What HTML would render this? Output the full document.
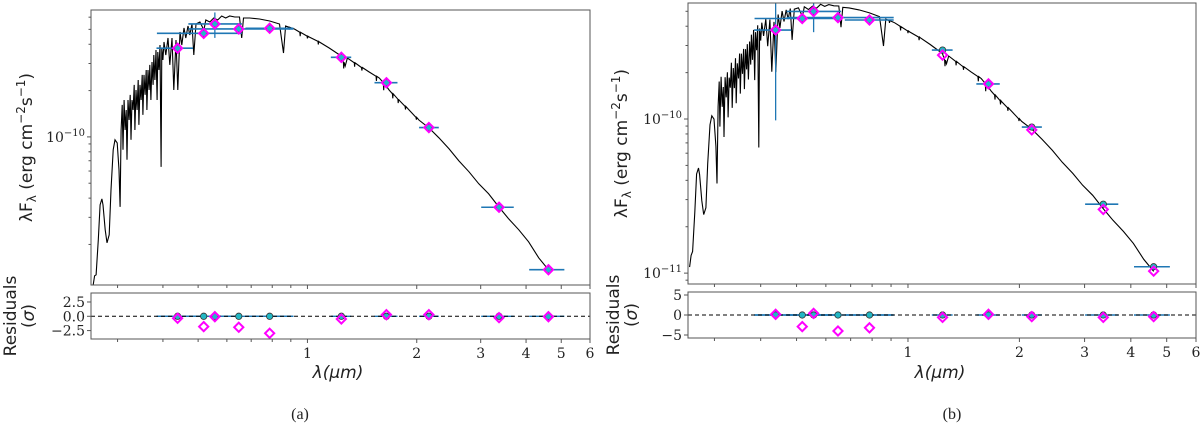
<!DOCTYPE html>
<html><head><meta charset="utf-8"><style>
html,body{margin:0;padding:0;background:#fff}
svg{display:block}
.tk{font-family:"DejaVu Serif","Liberation Serif",serif;font-size:14px;fill:#222}
.lab{font-family:"DejaVu Sans","Liberation Sans",sans-serif;font-size:17px;fill:#222}
.cap{font-family:"Liberation Serif",serif;font-size:16px;fill:#222}
</style></head><body>
<svg id="fig" width="1200" height="425" viewBox="0 0 1200 425" xmlns="http://www.w3.org/2000/svg"></svg>
<script>
// ---- shared photometric bands ----
const bandLam = [0.439,0.518,0.556,0.647,0.787,1.24,1.65,2.16,3.37,4.61];
const bandLo  = [0.384,0.385,0.47,0.47,0.675,1.16,1.53,2.03,3.01,4.08];
const bandHi  = [0.484,0.66,0.66,0.915,0.915,1.32,1.77,2.3,3.7,5.1];
// ---- panel a ----
const modelA = [3.77e-10,4.71e-10,5.42e-10,5.03e-10,5.08e-10,3.29e-10,2.25e-10,1.15e-10,3.49e-11,1.37e-11];
const obsA   = [3.77e-10,4.71e-10,5.42e-10,5.03e-10,5.08e-10,3.29e-10,2.25e-10,1.15e-10,3.49e-11,1.37e-11];
const errA   = [0,0,1.02e-10,0,0,0,0,0,0,0];
const residA = [-0.35,-1.8,-0.07,-1.92,-2.97,-0.47,0.28,0.28,-0.24,-0.07];
// ---- panel b ----
const modelB = [3.78e-10,4.49e-10,4.99e-10,4.55e-10,4.39e-10,2.60e-10,1.69e-10,8.51e-11,2.59e-11,1.03e-11];
const obsB   = [3.78e-10,4.49e-10,4.99e-10,4.55e-10,4.39e-10,2.80e-10,1.69e-10,8.87e-11,2.80e-11,1.10e-11];
const errB   = [2.8e-10,0,1.33e-10,0,0,0,0,0,0,0];
const residB = [0.17,-2.9,0.4,-4,-3.2,-0.6,0.17,-0.4,-0.6,-0.4];
// ---- model spectrum (log10 lambda [um], log10 flux rel. 1e-10) for panel a ----
const specLogLam = [-0.590,-0.586,-0.582,-0.576,-0.571,-0.566,-0.563,-0.557,-0.552,-0.546,-0.541,-0.535,-0.530,-0.524,-0.519,-0.516,-0.513,-0.510,-0.508,-0.505,-0.502,-0.499,-0.497,-0.494,-0.491,-0.488,-0.486,-0.483,-0.480,-0.477,-0.475,-0.472,-0.469,-0.466,-0.464,-0.461,-0.458,-0.455,-0.453,-0.450,-0.447,-0.444,-0.442,-0.439,-0.436,-0.434,-0.431,-0.428,-0.425,-0.423,-0.420,-0.417,-0.414,-0.412,-0.409,-0.406,-0.403,-0.401,-0.398,-0.395,-0.390,-0.384,-0.379,-0.373,-0.368,-0.362,-0.357,-0.351,-0.346,-0.340,-0.335,-0.329,-0.324,-0.318,-0.313,-0.307,-0.296,-0.285,-0.280,-0.269,-0.258,-0.247,-0.236,-0.225,-0.214,-0.200,-0.187,-0.181,-0.176,-0.159,-0.132,-0.104,-0.077,-0.066,-0.060,-0.036,-0.022,0.005,0.033,0.060,0.093,0.104,0.110,0.143,0.170,0.198,0.211,0.225,0.252,0.280,0.307,0.335,0.362,0.390,0.417,0.445,0.472,0.499,0.527,0.554,0.582,0.609,0.637,0.664];
const specLogFlux = [-0.961,-0.903,-0.896,-0.669,-0.442,-0.403,-0.442,-0.604,-0.688,-0.636,-0.344,-0.084,-0.019,-0.039,-0.214,-0.455,0.045,0.208,-0.084,0.240,0.045,0.175,-0.149,0.240,0.110,0.273,-0.019,0.240,0.175,0.338,0.045,0.305,0.175,0.370,0.078,0.338,0.240,0.403,0.143,0.403,0.273,0.435,0.175,0.435,0.305,0.468,0.240,0.487,0.338,0.532,0.370,0.565,0.240,0.552,0.435,0.597,-0.195,0.578,0.500,0.617,0.532,0.643,0.468,0.643,0.305,0.630,0.305,0.682,0.597,0.708,0.643,0.721,0.662,0.734,0.532,0.734,0.747,0.695,0.760,0.747,0.773,0.760,0.786,0.773,0.786,0.779,0.779,0.643,0.773,0.773,0.766,0.753,0.734,0.545,0.721,0.701,0.682,0.649,0.617,0.578,0.526,0.461,0.513,0.461,0.422,0.383,0.351,0.305,0.240,0.175,0.110,0.058,-0.006,-0.078,-0.156,-0.227,-0.305,-0.370,-0.455,-0.532,-0.604,-0.682,-0.786,-0.864];
const lineLogLam = [-0.05,-0.02,0.0,0.03,0.06,0.10,0.13,0.15,0.19,0.21,0.235,0.25,0.27,0.30];
const lineDepth  = [0.015,0.025,0.015,0.02,0.025,0.04,0.025,0.02,0.03,0.05,0.03,0.025,0.02,0.015];
// panel b spectrum = panel a shape + colour tilt
const tiltLogLam = [-0.59,-0.57,-0.53,-0.36,-0.26,-0.19,-0.10,0.09,0.22,0.66];
const tiltOffset = [0.0,0.09,0.04,0.0,-0.04,-0.045,-0.065,-0.10,-0.125,-0.125];

const NS="http://www.w3.org/2000/svg";
const svg=document.getElementById('fig');
function mk(tag,attrs,parent){const e=document.createElementNS(NS,tag);for(const k in attrs)e.setAttribute(k,attrs[k]);(parent||svg).appendChild(e);return e;}
function interp(xs,ys,x){if(x<=xs[0])return ys[0];for(let i=1;i<xs.length;i++){if(x<=xs[i]){const t=(x-xs[i-1])/(xs[i]-xs[i-1]);return ys[i-1]+t*(ys[i]-ys[i-1]);}}return ys[ys.length-1];}

function panel(p){
  const g=mk('g',{});
  
  
  const lx0=Math.log10(p.xmin),lx1=Math.log10(p.xmax);
  const X=l=>p.x0+(Math.log10(l)-lx0)/(lx1-lx0)*(p.x1-p.x0);
  const ly0=Math.log10(p.ymin),ly1=Math.log10(p.ymax);
  const Y=f=>p.y1-(Math.log10(f)-ly0)/(ly1-ly0)*(p.y1-p.y0);
  const R=r=>p.r1-(r-p.rmin)/(p.rmax-p.rmin)*(p.r1-p.r0);
  const clipId='clip'+p.name;
  const cp=mk('clipPath',{id:clipId},g);mk('rect',{x:p.x0,y:p.y0,width:p.x1-p.x0,height:p.y1-p.y0},cp);
  let pts=[];
  for(let i=0;i<specLogLam.length;i++){
    const ll=specLogLam[i];const off=p.tilt?interp(tiltLogLam,tiltOffset,ll):0;
    pts.push([ll,specLogFlux[i]+off]);
    if(i<specLogLam.length-1){
      for(let j=0;j<lineLogLam.length;j++){const L=lineLogLam[j];if(L>ll&&L<specLogLam[i+1]){
        const t=(L-ll)/(specLogLam[i+1]-ll);const off2=p.tilt?interp(tiltLogLam,tiltOffset,L):0;
        const base=specLogFlux[i]+t*(specLogFlux[i+1]-specLogFlux[i])+off2;
        pts.push([L-0.001,base],[L,base-lineDepth[j]],[L+0.001,base]);}}
    }
  }
  const d=pts.map((q,k)=>(k?'L':'M')+X(Math.pow(10,q[0])).toFixed(1)+','+Y(1e-10*Math.pow(10,q[1])).toFixed(1)).join('');
  const sp=mk('path',{d:d,fill:'none',stroke:'#000','stroke-width':1.1,'clip-path':'url(#'+clipId+')'},g);
  
  
  for(let i=0;i<bandLam.length;i++){
    const e1=mk('line',{x1:X(bandLo[i]),x2:X(bandHi[i]),y1:Y(p.obs[i]),y2:Y(p.obs[i]),stroke:'#1f77b4','stroke-width':1.6},g);
    
    
    if(p.err[i]>0){
      const top=Math.max(p.y0,Y(p.obs[i]+p.err[i]));const bot=Y(p.obs[i]-p.err[i]);
      const e2=mk('line',{x1:X(bandLam[i]),x2:X(bandLam[i]),y1:top,y2:bot,stroke:'#1f77b4','stroke-width':1.3},g);
      
      
    }
    const rb=mk('line',{x1:X(bandLo[i]),x2:X(bandHi[i]),y1:R(0),y2:R(0),stroke:'#1f77b4','stroke-width':1.4},g);
    
    
  }
  const zl=mk('line',{x1:p.x0,x2:p.x1,y1:R(0),y2:R(0),stroke:'#000','stroke-width':1,'stroke-dasharray':'4,3'},g);
  
  
  for(let i=0;i<bandLam.length;i++){
    const c=mk('circle',{cx:X(bandLam[i]),cy:Y(p.obs[i]),r:3.2,fill:'#22b8c4',stroke:'#333','stroke-width':0.8},g);
    
    
    const c2=mk('circle',{cx:X(bandLam[i]),cy:R(0),r:3.2,fill:'#22b8c4',stroke:'#333','stroke-width':0.8},g);
    
    
  }
  const dia=(cx,cy)=>`M${cx},${cy-4.6}L${cx+4.6},${cy}L${cx},${cy+4.6}L${cx-4.6},${cy}Z`;
  for(let i=0;i<bandLam.length;i++){
    const m=mk('path',{d:dia(X(bandLam[i]),Y(p.model[i])),fill:'none',stroke:'#ff00ff','stroke-width':2},g);
    
    
    const m2=mk('path',{d:dia(X(bandLam[i]),R(p.resid[i])),fill:'none',stroke:'#ff00ff','stroke-width':2},g);
    
    
  }
  const f1=mk('rect',{x:p.x0,y:p.y0,width:p.x1-p.x0,height:p.y1-p.y0,fill:'none',stroke:'#555','stroke-width':1},g);
  
  
  const f2=mk('rect',{x:p.x0,y:p.r0,width:p.x1-p.x0,height:p.r1-p.r0,fill:'none',stroke:'#555','stroke-width':1},g);
  
  
  const majors=[1,2,3,4,5,6];
  const minors=[0.3,0.4,0.5,0.6,0.7,0.8,0.9];
  minors.forEach(v=>{const x=X(v);mk('line',{x1:x,x2:x,y1:p.y1,y2:p.y1+3,stroke:'#555'},g);mk('line',{x1:x,x2:x,y1:p.r1,y2:p.r1+3,stroke:'#555'},g);});
  majors.forEach(v=>{const x=X(v);mk('line',{x1:x,x2:x,y1:p.y1,y2:p.y1+4,stroke:'#555'},g);mk('line',{x1:x,x2:x,y1:p.r1,y2:p.r1+4,stroke:'#555'},g);
    const t=mk('text',{x:x,y:p.r1+19,'text-anchor':'middle',class:'tk'},g);t.textContent=v;
    
    });
  for(let e=-12;e<=-9;e++){for(let m=1;m<10;m++){const v=m*Math.pow(10,e);if(v<p.ymin||v>p.ymax)continue;const y=Y(v);
    mk('line',{x1:p.x0-(m==1?4:2.5),x2:p.x0,y1:y,y2:y,stroke:'#555'},g);
    if(m==1){const t=mk('text',{x:p.x0-6,y:y+5,'text-anchor':'end',class:'tk'},g);
      
      
      t.innerHTML='10<tspan dy="-6" font-size="10">−'+(-e)+'</tspan>';}}}
  p.rticks.forEach((v,k)=>{const y=R(v);mk('line',{x1:p.x0-4,x2:p.x0,y1:y,y2:y,stroke:'#555'},g);
    const t=mk('text',{x:p.x0-6,y:y+5,'text-anchor':'end',class:'tk'},g);t.textContent=p.rlabels[k];
    
    });
  const yl=mk('text',{x:0,y:0,transform:`translate(${p.ylx},${(p.y0+p.y1)/2}) rotate(-90)`,'text-anchor':'middle',class:'lab'},g);
  yl.innerHTML='λF<tspan dy="4" font-size="12">λ</tspan><tspan dy="-4"> (erg cm</tspan><tspan dy="-7" font-size="12">−2</tspan><tspan dy="7">s</tspan><tspan dy="-7" font-size="12">−1</tspan><tspan dy="7">)</tspan>';
  
  
  const rl=mk('text',{x:0,y:0,transform:`translate(${p.rlx},${(p.r0+p.r1)/2}) rotate(-90)`,'text-anchor':'middle',class:'lab'},g);
  rl.textContent='Residuals';
  
  
  const rs=mk('text',{x:0,y:0,transform:`translate(${p.rlx+18},${(p.r0+p.r1)/2}) rotate(-90)`,'text-anchor':'middle',class:'lab'},g);
  rs.innerHTML='(<tspan font-style="italic">σ</tspan>)';
  
  
  const xl=mk('text',{x:p.xlx,y:378,'text-anchor':'middle',class:'lab','font-style':'italic'},g);
  xl.textContent='λ(μm)';
  
  
  const cap=mk('text',{x:p.capx,y:419,'text-anchor':'middle',class:'cap'},g);
  cap.textContent=p.cap;
  
  
}
panel({name:'panel-a',x0:91,x1:590,y0:10,y1:285,r0:293,r1:339,xmin:0.2535,xmax:6,ymin:1.09e-11,ymax:6.68e-10,rmin:-3.97,rmax:4.07,
  model:modelA,obs:obsA,err:errA,resid:residA,tilt:false,rticks:[2.5,0,-2.5],rlabels:['2.5','0.0','−2.5'],
  ylx:32,rlx:16,xlx:338,capx:300,cap:'(a)'});
panel({name:'panel-b',x0:688,x1:1196,y0:3,y1:284,r0:292,r1:338,xmin:0.2545,xmax:6,ymin:8.5e-12,ymax:5.66e-10,rmin:-5.75,rmax:5.75,
  model:modelB,obs:obsB,err:errB,resid:residB,tilt:true,rticks:[5,0,-5],rlabels:['5','0','−5'],
  ylx:627,rlx:619,xlx:940,capx:952,cap:'(b)'});
</script>
</body></html>
